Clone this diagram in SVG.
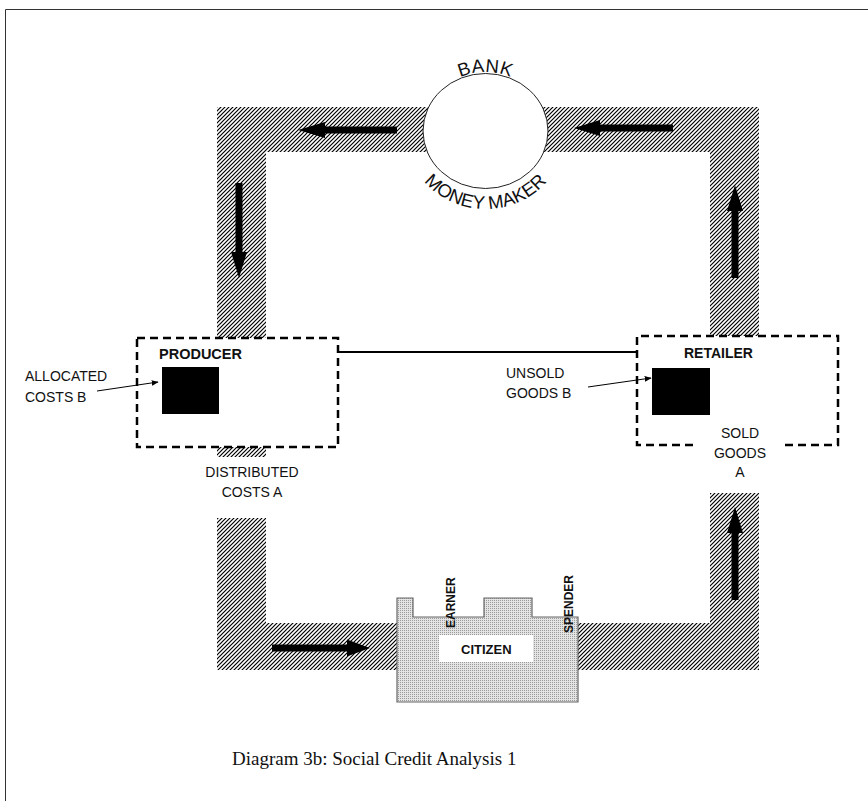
<svg xmlns="http://www.w3.org/2000/svg" width="868" height="801" viewBox="0 0 868 801">
<style>
.lbl{font-family:"Liberation Sans",Arial,sans-serif;font-size:14px;fill:#111}
.bold{font-family:"Liberation Sans",Arial,sans-serif;font-weight:bold;fill:#111}
.arrow{fill:#000}
.dash{fill:#fff;stroke:#000;stroke-width:2.5;stroke-dasharray:8 5}
.thin{stroke:#000;stroke-width:1;fill:none}
.band{fill:url(#hatch)}
</style>
<defs>
<pattern id="hatch" width="4" height="4" patternUnits="userSpaceOnUse">
<rect x="0" y="0" width="4" height="4" fill="#fff"/>
<path d="M-1,5 L5,-1 M-3,3 L3,-3 M1,7 L7,1" stroke="#000" stroke-width="1.2"/>
</pattern>
<pattern id="dots" width="2" height="2" patternUnits="userSpaceOnUse">
<rect x="0" y="0" width="2" height="2" fill="#e4e4e4"/>
<rect x="0" y="0" width="1" height="1" fill="#9a9a9a"/>
</pattern>
<marker id="ah" viewBox="0 0 10 10" refX="9" refY="5" markerWidth="7" markerHeight="7" orient="auto" markerUnits="userSpaceOnUse">
<path d="M0,1 L10,5 L0,9 Z" fill="#000"/>
</marker>
<path id="bankArc" d="M 424 131 A 61.5 59 0 0 1 547 131"/>
<path id="makerArc" d="M 405 131 A 80.5 78 0 0 0 566 131"/>
</defs>
<rect x="0" y="0" width="868" height="801" fill="#fff"/>
<path d="M5.5 801 V9.5 H868" fill="none" stroke="#333" stroke-width="1"/>

<g id="bands">
<rect class="band" x="217" y="107" width="542" height="45"/>
<rect class="band" x="217" y="107" width="49" height="350"/>
<rect class="band" x="710" y="107" width="49" height="229"/>
<rect class="band" x="217" y="518" width="49" height="152"/>
<rect class="band" x="217" y="623" width="180" height="47"/>
<rect class="band" x="710" y="493" width="49" height="177"/>
<rect class="band" x="578" y="623" width="181" height="47"/>
</g>

<g id="bank">
<ellipse cx="485.5" cy="131" rx="62.5" ry="57.5" fill="#fff" stroke="#222" stroke-width="1"/>
<text class="lbl" style="font-size:18.5px;letter-spacing:0.5px" text-anchor="middle"><textPath href="#bankArc" startOffset="50%">BANK</textPath></text>
<text class="lbl" style="font-size:18.5px" text-anchor="middle"><textPath href="#makerArc" startOffset="50%">MONEY MAKER</textPath></text>
</g>

<g id="producer">
<rect class="dash" x="137" y="338" width="201" height="109"/>
<rect x="162" y="367" width="57" height="47" fill="#000"/>
<text class="bold" x="159" y="359" style="font-size:14.5px">PRODUCER</text>
</g>

<g id="retailer">
<rect x="637" y="336" width="201" height="109" fill="#fff"/>
<path class="dash" style="fill:none" d="M693 445 H637 V336 H838 V445 H780"/>
<rect x="652" y="368" width="58" height="47" fill="#000"/>
<text class="bold" x="684" y="358" style="font-size:14px">RETAILER</text>
</g>

<g id="citizen">
<path d="M397 598 H413 V617 H484 V598 H532 V617 H578 V702 H397 Z" fill="url(#dots)" stroke="#666" stroke-width="1.2"/>
<rect x="439" y="635" width="94" height="27" fill="#fff"/>
<text class="bold" x="461" y="654" style="font-size:13px">CITIZEN</text>
<text class="bold" transform="translate(455 628) rotate(-90)" style="font-size:12px">EARNER</text>
<text class="bold" transform="translate(573 633) rotate(-90)" style="font-size:12px">SPENDER</text>
</g>

<g id="labels">
<text class="lbl" x="25" y="381">ALLOCATED</text>
<text class="lbl" x="25" y="402">COSTS B</text>
<text class="lbl" x="506" y="378">UNSOLD</text>
<text class="lbl" x="506" y="398">GOODS B</text>
<text class="lbl" x="740" y="438" text-anchor="middle">SOLD</text>
<text class="lbl" x="740" y="458" text-anchor="middle">GOODS</text>
<text class="lbl" x="740" y="477" text-anchor="middle">A</text>
<text class="lbl" x="252" y="477" text-anchor="middle">DISTRIBUTED</text>
<text class="lbl" x="252" y="497" text-anchor="middle">COSTS A</text>
</g>

<g id="connectors">
<line x1="338" y1="352" x2="637" y2="352" stroke="#000" stroke-width="2"/>
<line class="thin" x1="97" y1="391" x2="158" y2="382" marker-end="url(#ah)"/>
<line class="thin" x1="588" y1="387" x2="651" y2="378" marker-end="url(#ah)"/>
<polygon class="arrow" points="397,126.5 325,126.5 325,122 298,130 325,138 325,133.5 397,133.5"/>
<polygon class="arrow" points="673,124.5 600,124.5 600,120 574,128 600,136 600,131.5 673,131.5"/>
<polygon class="arrow" points="235.5,183 235.5,252 231,252 239,278 247,252 242.5,252 242.5,183"/>
<polygon class="arrow" points="731.5,278 731.5,211 727,211 735,185 743,211 738.5,211 738.5,278"/>
<polygon class="arrow" points="731.5,600 731.5,533 727,533 735,507 743,533 738.5,533 738.5,600"/>
<polygon class="arrow" points="272,644.5 347,644.5 347,639.5 370,648 347,656.5 347,651.5 272,651.5"/>
</g>

<text x="232" y="765" style="font-family:'Liberation Serif','Times New Roman',serif;font-size:19px;fill:#111">Diagram 3b: Social Credit Analysis 1</text>
</svg>
